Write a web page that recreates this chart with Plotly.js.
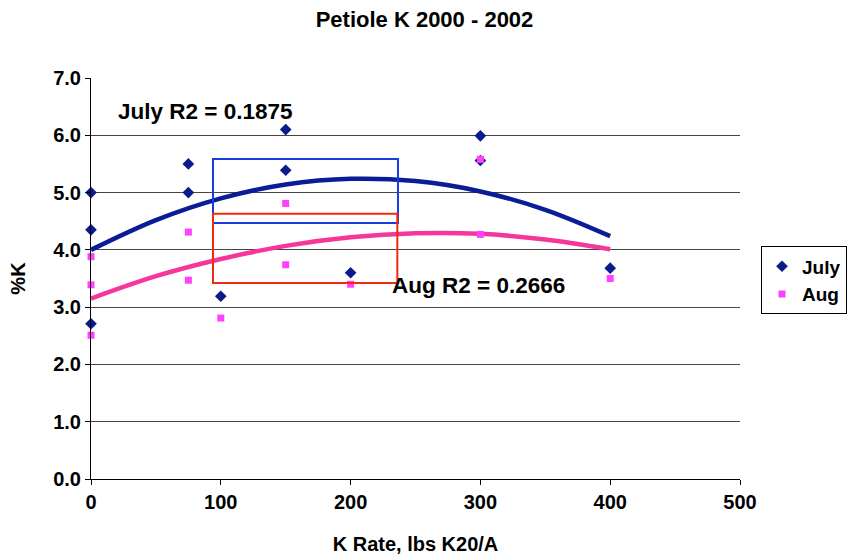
<!DOCTYPE html>
<html><head><meta charset="utf-8">
<script src="https://cdn.plot.ly/plotly-3.0.1.min.js"></script>
<style>body{margin:0;background:#fff}#c{width:849px;height:558px}</style>
</head><body><div id="c"></div>
<script>
// Data
const julyX = [0, 0, 0, 75, 75, 100, 150, 150, 200, 300, 300, 400];
const julyY = [5.0, 4.35, 2.71, 5.5, 5.0, 3.19, 6.1, 5.39, 3.6, 5.99, 5.56, 3.68];
const augX = [0, 0, 0, 75, 75, 100, 150, 150, 200, 300, 300, 400];
const augY = [3.88, 3.39, 2.51, 4.31, 3.47, 2.81, 4.81, 3.74, 3.4, 5.58, 4.27, 3.5];
// Polynomial trendlines
const trendX = [0, 50, 100, 150, 200, 250, 300, 350, 400];
const julyTrend = [4.0, 4.52, 4.90, 5.14, 5.24, 5.20, 5.02, 4.70, 4.24];
const augTrend = [3.15, 3.54, 3.84, 4.07, 4.22, 4.29, 4.28, 4.18, 4.01];
const xTicks = [0, 100, 200, 300, 400, 500];
const yTicks = [0, 1, 2, 3, 4, 5, 6, 7];

const F = 'Arial, "Liberation Sans", sans-serif';
const bold = (s) => ({family: F, size: s, color: '#000', weight: 'bold'});
const traces = [
  {x: trendX, y: julyTrend, mode: 'lines', line: {color: '#0A1C96', width: 4.5, shape: 'spline'}, showlegend: false, hoverinfo: 'skip'},
  {x: trendX, y: augTrend, mode: 'lines', line: {color: '#F5369A', width: 4.5, shape: 'spline'}, showlegend: false, hoverinfo: 'skip'},
  {x: julyX, y: julyY, name: 'July', mode: 'markers', cliponaxis: false,
   marker: {symbol: 'diamond', size: 9, color: '#0A1C8C'}},
  {x: augX, y: augY, name: 'Aug', mode: 'markers', cliponaxis: false,
   marker: {symbol: 'square', size: 7, color: '#FF40FF'}}
];
const layout = {
  width: 849, height: 558,
  margin: {l: 91, r: 109, t: 78, b: 79, autoexpand: false},
  paper_bgcolor: '#fff', plot_bgcolor: '#fff',
  title: {text: 'Petiole K 2000 - 2002', font: bold(22), x: 0.5, xanchor: 'center', y: 0.966, yanchor: 'middle'},
  xaxis: {range: [0, 500], tickvals: xTicks, ticks: 'outside', ticklen: 5, tickcolor: '#000',
    showline: true, linecolor: '#000', linewidth: 1, showgrid: false, zeroline: false,
    tickfont: bold(20),
    title: {text: 'K Rate, lbs K20/A', font: bold(20), standoff: 24}},
  yaxis: {range: [0, 7], tickvals: yTicks, tickformat: '.1f', ticks: 'outside', ticklen: 5, tickcolor: '#000',
    showline: true, linecolor: '#000', linewidth: 1, showgrid: true, gridcolor: '#444', gridwidth: 1, zeroline: false,
    tickfont: bold(20),
    title: {text: '%K', font: bold(20), standoff: 22}},
  legend: {x: (847-91)/649, y: 0.58, xanchor: 'right', yanchor: 'top', bordercolor: '#000', borderwidth: 1,
    font: bold(19), bgcolor: '#fff', tracegroupgap: 0, itemwidth: 30},
  shapes: [
    {type: 'rect', xref: 'x', yref: 'y', x0: 94, x1: 236.5, y0: 4.47, y1: 5.585, line: {color: '#1A3BE0', width: 2}},
    {type: 'rect', xref: 'x', yref: 'y', x0: 94, x1: 236, y0: 3.42, y1: 4.63, line: {color: '#F02A10', width: 2}}
  ],
  annotations: [
    {text: 'July R2 = 0.1875', xref: 'paper', yref: 'paper', x: (116-91)/649, y: (479-111)/401, xanchor: 'left', yanchor: 'middle', showarrow: false,
     font: bold(22.5)},
    {text: 'Aug R2 = 0.2666', xref: 'paper', yref: 'paper', x: (390-91)/649, y: (479-285)/401, xanchor: 'left', yanchor: 'middle', showarrow: false,
     font: bold(22.5)}
  ]
};
Plotly.newPlot('c', traces, layout, {displayModeBar: false, staticPlot: true});
</script></body></html>
